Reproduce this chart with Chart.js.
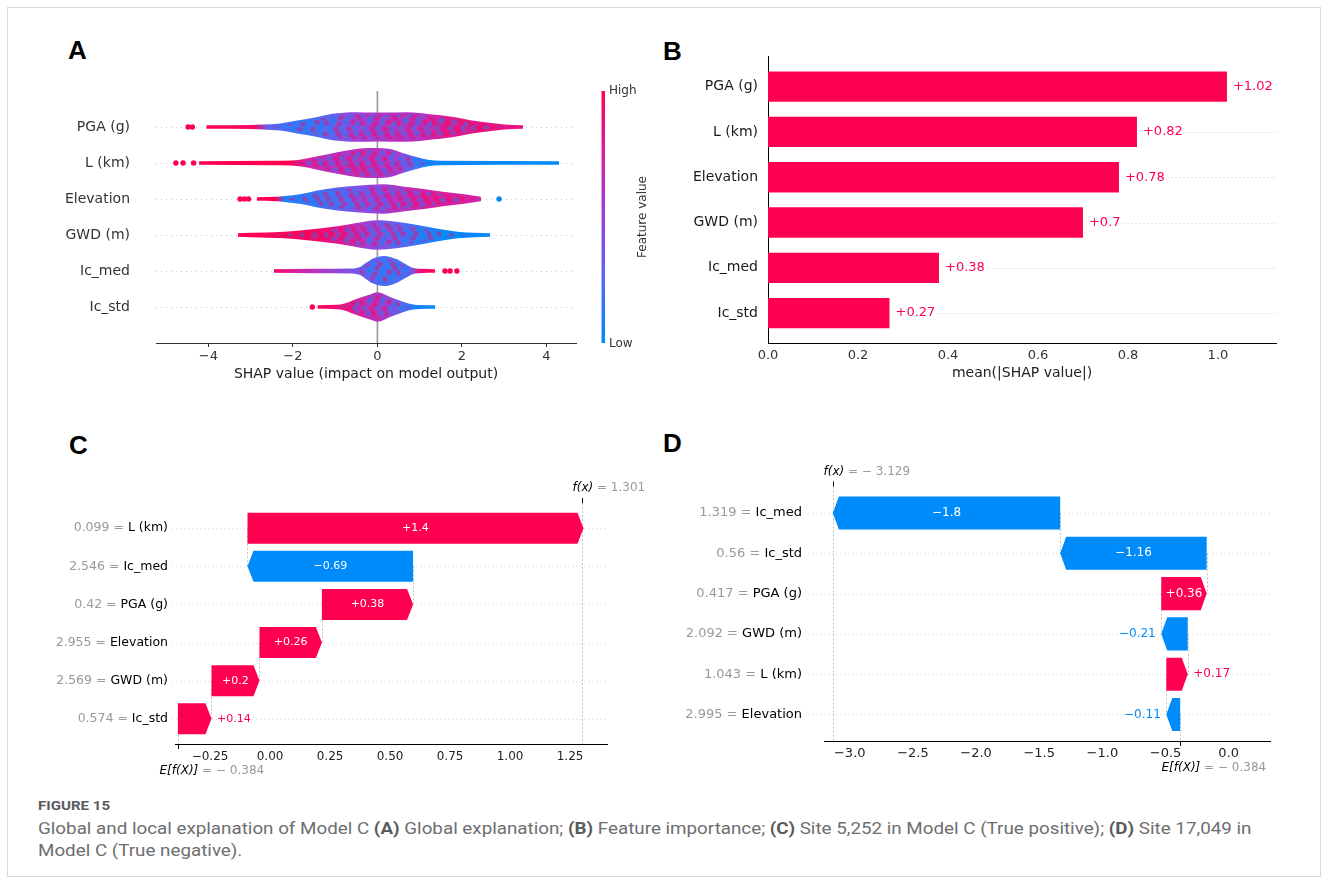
<!DOCTYPE html>
<html>
<head>
<meta charset="utf-8">
<title>Figure 15 – global and local explanation of Model C</title>
<script src="https://cdn.jsdelivr.net/npm/chart.js@4.4.1/dist/chart.umd.min.js"></script>
<style>
  html, body { margin: 0; padding: 0; background: #fff; }
  body { position: relative; width: 1328px; height: 883px; overflow: hidden; }
  .frame { position: absolute; left: 7px; top: 7px; width: 1314px; height: 870px; border: 1px solid #d9d9d9; box-sizing: border-box; }
  canvas { position: absolute; }
  .panel { position: absolute; font: bold 26px 'Liberation Sans', Arial, sans-serif; line-height: 26px; color: #000; }
  .cap { position: absolute; left: 38px; white-space: nowrap; transform-origin: 0 0; color: #6d6e70;
         font-family: 'Liberation Sans Narrow', 'Roboto', sans-serif; }
  .cap b { font-weight: bold; color: #5a5b5d; }
  #cap0 { top: 798px; font-size: 13px; font-weight: bold; color: #5a5b5d; line-height: 16px; }
  #cap1 { top: 818px; font-size: 16px; line-height: 22px; }
  #cap2 { top: 840px; font-size: 16px; line-height: 22px; }
</style>
</head>
<body>
<div class="frame"></div>
<div class="panel" style="left:68px;top:37px">A</div>
<div class="panel" style="left:663px;top:38px">B</div>
<div class="panel" style="left:69px;top:432px">C</div>
<div class="panel" style="left:663px;top:430px">D</div>

<canvas id="chartA" width="664" height="400" style="left:0;top:0"></canvas>
<canvas id="chartB" width="664" height="400" style="left:664px;top:0"></canvas>
<canvas id="chartC" width="664" height="370" style="left:0;top:420px"></canvas>
<canvas id="chartD" width="664" height="370" style="left:664px;top:420px"></canvas>

<div id="cap0" class="cap">FIGURE 15</div>
<div id="cap1" class="cap">Global and local explanation of Model C <b>(A)</b> Global explanation; <b>(B)</b> Feature importance; <b>(C)</b> Site 5,252 in Model C (True positive); <b>(D)</b> Site 17,049 in</div>
<div id="cap2" class="cap">Model C (True negative).</div>

<script>
// ---------------- Panel A: SHAP summary (beeswarm) ----------------
const featuresA = ['PGA (g)', 'L (km)', 'Elevation', 'GWD (m)', 'Ic_med', 'Ic_std'];
const ticksA = [-4, -2, 0, 2, 4];

// swarm outline per feature: [SHAP value, half thickness in row units]
const swarmPGA = [[-4.05, 0.05], [-3.0, 0.055], [-2.7, 0.07], [-2.3, 0.1], [-1.9, 0.18], [-1.45, 0.27], [-1.1, 0.36], [-0.5, 0.41], [0, 0.40], [0.7, 0.41], [1.3, 0.35], [1.8, 0.28], [2.2, 0.19], [2.7, 0.11], [3.0, 0.07], [3.45, 0.05]];
const swarmL = [[-4.22, 0.05], [-2.5, 0.06], [-2.05, 0.07], [-1.8, 0.1], [-1.45, 0.18], [-0.95, 0.3], [-0.5, 0.39], [-0.2, 0.42], [0, 0.42], [0.3, 0.39], [0.6, 0.28], [0.95, 0.16], [1.2, 0.09], [1.5, 0.06], [4.3, 0.05]];
const swarmElev = [[-2.85, 0.05], [-2.4, 0.06], [-2.2, 0.08], [-1.8, 0.14], [-1.45, 0.23], [-0.95, 0.32], [-0.5, 0.37], [0.15, 0.41], [0.6, 0.35], [1.1, 0.28], [1.55, 0.2], [2.05, 0.13], [2.45, 0.06]];
const swarmGWD = [[-3.3, 0.05], [-3.0, 0.06], [-2.2, 0.09], [-1.6, 0.15], [-0.95, 0.24], [-0.5, 0.33], [0, 0.41], [0.45, 0.37], [0.95, 0.28], [1.4, 0.18], [1.9, 0.09], [2.3, 0.06], [2.67, 0.05]];
const swarmIcMed = [[-2.45, 0.05], [-1.5, 0.06], [-0.6, 0.07], [-0.4, 0.12], [-0.25, 0.24], [-0.1, 0.35], [0.15, 0.42], [0.45, 0.33], [0.65, 0.2], [0.85, 0.08], [1.0, 0.06], [1.37, 0.05]];
const swarmIcStd = [[-1.42, 0.05], [-0.95, 0.06], [-0.8, 0.09], [-0.48, 0.23], [-0.17, 0.35], [0, 0.41], [0.3, 0.28], [0.62, 0.14], [0.85, 0.07], [1.0, 0.055], [1.37, 0.05]];

// prevailing feature value along the swarm: [SHAP value, 0 = low … 1 = high]
const huePGA = [[-4.5, 1], [-2.9, 0.95], [-2.6, 0.3], [-1.8, 0.15], [-1.2, 0.25], [-0.5, 0.5], [0.3, 0.62], [1.0, 0.62], [1.6, 0.8], [2.5, 0.86], [3.5, 0.86]];
const hueL = [[-4.8, 1], [-2.1, 1], [-1.7, 0.75], [-1.2, 0.62], [-0.5, 0.66], [0, 0.62], [0.5, 0.52], [0.9, 0.2], [1.2, 0.03], [4.3, 0]];
const hueElev = [[-3.3, 1], [-2.4, 1], [-2.2, 0.1], [-1.5, 0.15], [-0.8, 0.3], [-0.2, 0.48], [0.4, 0.58], [1.0, 0.72], [1.6, 0.78], [2.5, 0.72]];
const hueGWD = [[-3.3, 1], [-1.5, 0.95], [-0.8, 0.78], [-0.2, 0.5], [0.4, 0.32], [1.0, 0.15], [1.6, 0.03], [2.7, 0]];
const hueIcMed = [[-2.45, 0.95], [-1.9, 0.75], [-1.2, 0.55], [-0.5, 0.35], [0, 0.22], [0.4, 0.22], [0.8, 0.3], [1.0, 0.9], [1.4, 1]];
const hueIcStd = [[-1.55, 1], [-0.9, 0.9], [-0.4, 0.72], [0, 0.62], [0.4, 0.42], [0.8, 0.1], [1.4, 0]];

// isolated samples: [SHAP value, feature value]
const dotsPGA = [[-4.48, 1], [-4.38, 1]];
const dotsL = [[-4.77, 1], [-4.6, 1], [-4.35, 1]];
const dotsElev = [[-3.25, 1], [-3.15, 1], [-3.05, 1], [2.88, 0]];
const dotsGWD = [];
const dotsIcMed = [[1.6, 1], [1.72, 1], [1.88, 1]];
const dotsIcStd = [[-1.54, 1]];

const swarmA = [swarmPGA, swarmL, swarmElev, swarmGWD, swarmIcMed, swarmIcStd];
const hueA = [huePGA, hueL, hueElev, hueGWD, hueIcMed, hueIcStd];
const dotsA = [dotsPGA, dotsL, dotsElev, dotsGWD, dotsIcMed, dotsIcStd];

// ---------------- Panel B: mean |SHAP| ----------------
const featuresB = ['PGA (g)', 'L (km)', 'Elevation', 'GWD (m)', 'Ic_med', 'Ic_std'];
const importanceB = [1.02, 0.82, 0.78, 0.7, 0.38, 0.27];
const ticksB = [0, 0.2, 0.4, 0.6, 0.8, 1.0];

// ---------------- Panel C: site 5,252 waterfall ----------------
const namesC = ['L (km)', 'Ic_med', 'PGA (g)', 'Elevation', 'GWD (m)', 'Ic_std'];
const featC = ['0.099', '2.546', '0.42', '2.955', '2.569', '0.574'];
const shapC = [1.4, -0.69, 0.38, 0.26, 0.2, 0.14];
const baseC = -0.384;
const fxC = 1.301;
const ticksC = [-0.25, 0, 0.25, 0.5, 0.75, 1.0, 1.25];

// ---------------- Panel D: site 17,049 waterfall ----------------
const namesD = ['Ic_med', 'Ic_std', 'PGA (g)', 'GWD (m)', 'L (km)', 'Elevation'];
const featD = ['1.319', '0.56', '0.417', '2.092', '1.043', '2.995'];
const shapD = [-1.8, -1.16, 0.36, -0.21, 0.17, -0.11];
const baseD = -0.384;
const fxD = -3.129;
const ticksD = [-3, -2.5, -2, -1.5, -1, -0.5, 0];

const rowsIdx = [0, 1, 2, 3, 4, 5];

// ---------------- shared styling ----------------
const RED = '#ff0051';
const BLUE = '#008bfb';
const CMAP = [[0, [0, 139, 251]], [0.25, [88, 104, 243]], [0.5, [155, 66, 218]], [0.75, [212, 34, 165]], [1, [255, 0, 81]]];
const FONT = "'DejaVu Sans', sans-serif";

Chart.defaults.font.family = FONT;
Chart.defaults.color = '#333';
Chart.defaults.animation = false;
Chart.defaults.plugins.legend.display = false;
Chart.defaults.plugins.tooltip.enabled = false;

function cmap(t) {
  t = Math.max(0, Math.min(1, t));
  for (let i = 1; i < CMAP.length; i++) {
    const [t1, c1] = CMAP[i];
    if (t <= t1) {
      const [t0, c0] = CMAP[i - 1];
      const f = (t - t0) / (t1 - t0);
      return 'rgb(' + c0.map((c, k) => Math.round(c + (c1[k] - c) * f)).join(',') + ')';
    }
  }
  return 'rgb(255,0,81)';
}
const uminus = (s) => String(s).replace('-', '\u2212');
const signed = (v) => (v < 0 ? '\u2212' : '+') + String(Math.abs(v));

function seg(ctx, x0, y0, x1, y1) {
  ctx.beginPath(); ctx.moveTo(x0, y0); ctx.lineTo(x1, y1); ctx.stroke();
}

function swarmGradient(chart, hue) {
  const xs = chart.scales.x;
  if (!chart.chartArea || !xs) return cmap(0.5);
  const x0 = xs.getPixelForValue(xs.min), x1 = xs.getPixelForValue(xs.max);
  const g = chart.ctx.createLinearGradient(x0, 0, x1, 0);
  hue.forEach(([v, m]) => {
    const p = (xs.getPixelForValue(v) - x0) / (x1 - x0);
    g.addColorStop(Math.max(0, Math.min(1, p)), cmap(m));
  });
  return g;
}

// speckle texture laid over the thick part of each swarm so it reads as packed dots
const speckle = (() => {
  const W = 36, H = 30;
  const tile = document.createElement('canvas');
  tile.width = W; tile.height = H;
  const t = tile.getContext('2d');
  const spots = [
    [2, 3, RED], [9, 2, BLUE], [15, 4, RED], [22, 3, BLUE], [29, 2, RED], [34, 4, BLUE],
    [5, 8, BLUE], [12, 9, RED], [18, 8, BLUE], [25, 9, RED], [31, 8, BLUE],
    [1, 14, RED], [8, 13, BLUE], [14, 14, RED], [21, 13, BLUE], [27, 15, RED], [33, 13, BLUE],
    [4, 19, RED], [11, 20, BLUE], [17, 19, RED], [24, 20, BLUE], [30, 19, RED],
    [2, 25, BLUE], [7, 24, RED], [14, 25, BLUE], [20, 24, RED], [27, 25, BLUE], [33, 24, RED],
    [10, 29, BLUE], [17, 28, RED], [23, 29, BLUE], [35, 28, RED]
  ];
  t.globalAlpha = 0.4;
  spots.forEach(([x, y, c]) => {
    for (const dx of [-W, 0, W]) for (const dy of [-H, 0, H]) {
      t.fillStyle = c; t.beginPath(); t.arc(x + dx, y + dy, 2.6, 0, Math.PI * 2); t.fill();
    }
  });
  return tile;
})();
let speckleFill = null;
const RIM = 0.07; // solid rim (row units) left around the speckled body

// ---------------- Panel A chart ----------------
const datasetsA = [];
const lineStyle = { borderColor: 'rgba(0,0,0,0)', borderWidth: 0, pointRadius: 0, cubicInterpolationMode: 'monotone' };
swarmA.forEach((outline, row) => {
  const hue = hueA[row];
  datasetsA.push({ data: outline.map(([x, h]) => ({ x, y: row - h })), fill: '+1',
                   backgroundColor: (ctx) => swarmGradient(ctx.chart, hue), ...lineStyle });
  datasetsA.push({ data: outline.map(([x, h]) => ({ x, y: row + h })), fill: false, ...lineStyle });
  datasetsA.push({
    data: outline.map(([x, h]) => ({ x, y: row - Math.max(h - RIM, 0) })), fill: '+1', order: -0.5,
    backgroundColor: (ctx) => {
      if (!speckleFill) speckleFill = ctx.chart.ctx.createPattern(speckle, 'repeat');
      return speckleFill;
    },
    ...lineStyle
  });
  datasetsA.push({ data: outline.map(([x, h]) => ({ x, y: row + Math.max(h - RIM, 0) })), fill: false, order: -0.5, ...lineStyle });
});
datasetsA.push({
  data: dotsA.flatMap((list, row) => list.map(([x, m]) => ({ x, y: row, m }))),
  showLine: false, order: -1,
  pointRadius: 2.7, pointBorderWidth: 0,
  pointBackgroundColor: (ctx) => cmap(ctx.raw ? ctx.raw.m : 0.5)
});

const swarmDecor = {
  id: 'swarmDecor',
  beforeDatasetsDraw(chart) {
    const { ctx, chartArea: a, scales: { x, y } } = chart;
    ctx.save();
    ctx.strokeStyle = '#cccccc'; ctx.lineWidth = 1; ctx.setLineDash([1, 4]);
    featuresA.forEach((_, i) => {
      const py = Math.round(y.getPixelForValue(i)) + 0.5;
      seg(ctx, a.left, py, a.right, py);
    });
    ctx.setLineDash([]);
    ctx.strokeStyle = '#999999'; ctx.lineWidth = 1.6;
    const px = x.getPixelForValue(0);
    seg(ctx, px, a.top, px, a.bottom);
    ctx.restore();
  },
  afterDraw(chart) {
    // colour bar for the feature value
    const { ctx, chartArea: a } = chart;
    ctx.save();
    const g = ctx.createLinearGradient(0, a.bottom, 0, a.top);
    CMAP.forEach(([t, c]) => g.addColorStop(t, 'rgb(' + c.join(',') + ')'));
    ctx.fillStyle = g;
    ctx.fillRect(601.5, a.top, 3.5, a.bottom - a.top);
    ctx.fillStyle = '#333';
    ctx.font = '12px ' + FONT;
    ctx.textBaseline = 'middle';
    ctx.textAlign = 'left';
    ctx.fillText('High', 609, a.top);
    ctx.fillText('Low', 609, a.bottom + 1);
    ctx.translate(643, (a.top + a.bottom) / 2);
    ctx.rotate(-Math.PI / 2);
    ctx.textAlign = 'center';
    ctx.fillText('Feature value', 0, 0);
    ctx.restore();
  }
};

new Chart(document.getElementById('chartA'), {
  type: 'line',
  data: { datasets: datasetsA },
  options: {
    responsive: false, events: [],
    layout: { padding: { left: 0, top: 91, right: 88, bottom: 17.6 } },
    scales: {
      x: {
        type: 'linear', min: -5.24, max: 4.7, bounds: 'data',
        afterBuildTicks: (s) => { s.ticks = ticksA.map((v) => ({ value: v })); },
        afterFit: (s) => { s.height = 39.4; },
        ticks: { callback: (v) => uminus(v), font: { size: 13 }, color: '#333', padding: 2, maxRotation: 0, autoSkip: false },
        grid: { display: true, drawOnChartArea: false, drawTicks: true, tickLength: 4, color: '#333' },
        border: { display: true, color: '#333', width: 1 },
        title: { display: true, text: 'SHAP value (impact on model output)', font: { size: 14 }, color: '#222', padding: 0 }
      },
      y: {
        type: 'linear', reverse: true, min: -1, max: 6, bounds: 'data',
        afterBuildTicks: (s) => { s.ticks = featuresA.map((_, i) => ({ value: i })); },
        afterFit: (s) => { s.width = 156; },
        ticks: { callback: (v) => featuresA[v], font: { size: 14 }, color: '#333', padding: 26, autoSkip: false },
        grid: { display: false, drawTicks: false },
        border: { display: false }
      }
    }
  },
  plugins: [swarmDecor]
});

// ---------------- Panel B chart ----------------
const barLabels = {
  id: 'barLabels',
  afterDatasetsDraw(chart) {
    const { ctx, chartArea: a } = chart;
    const meta = chart.getDatasetMeta(0);
    ctx.save();
    ctx.font = '13px ' + FONT;
    ctx.textBaseline = 'middle';
    meta.data.forEach((el, i) => {
      const txt = signed(importanceB[i]);
      const tx = el.x + 6;
      ctx.fillStyle = RED;
      ctx.textAlign = 'left';
      ctx.fillText(txt, tx, el.y);
      const tw = ctx.measureText(txt).width;
      ctx.strokeStyle = '#cccccc'; ctx.lineWidth = 1; ctx.setLineDash([1, 3]);
      const py = Math.round(el.y) + 0.5;
      if (tx + tw + 3 < a.right) seg(ctx, tx + tw + 3, py, a.right, py);
    });
    ctx.restore();
  }
};

new Chart(document.getElementById('chartB'), {
  type: 'bar',
  data: {
    datasets: [{
      data: importanceB.map((v, i) => ({ x: v, y: i })),
      backgroundColor: RED, borderWidth: 0,
      barPercentage: 0.67, categoryPercentage: 1
    }]
  },
  options: {
    indexAxis: 'y', responsive: false, events: [],
    layout: { padding: { left: 0, top: 56.7, right: 52, bottom: 17.9 } },
    scales: {
      x: {
        type: 'linear', min: 0, max: 1.129, bounds: 'data',
        afterBuildTicks: (s) => { s.ticks = ticksB.map((v) => ({ value: v })); },
        afterFit: (s) => { s.height = 39.1; },
        ticks: { callback: (v) => v.toFixed(1), font: { size: 13 }, color: '#333', padding: 5, maxRotation: 0, autoSkip: false },
        grid: { display: false, drawTicks: false },
        border: { display: true, color: '#000', width: 1 },
        title: { display: true, text: 'mean(|SHAP value|)', font: { size: 14 }, color: '#222', padding: 0 }
      },
      y: {
        type: 'linear', reverse: true, min: -0.66, max: 5.66, offset: false, bounds: 'data',
        afterBuildTicks: (s) => { s.ticks = featuresB.map((_, i) => ({ value: i })); },
        afterFit: (s) => { s.width = 104; },
        ticks: { callback: (v) => featuresB[v], font: { size: 14 }, color: '#1a1a1a', padding: 10, autoSkip: false },
        grid: { display: false, drawTicks: false },
        border: { display: true, color: '#000', width: 1 }
      }
    }
  },
  plugins: [barLabels]
});

// ---------------- Panels C and D: waterfall ----------------
function waterfall(id, s) {
  const n = s.shap.length;
  const starts = [], ends = [];
  let acc = s.base;
  for (let i = n - 1; i >= 0; i--) { starts[i] = acc; acc += s.shap[i]; ends[i] = acc; }

  const head = 6;
  const plugin = {
    id: 'waterfall',
    beforeDatasetsDraw(chart) {
      const { ctx, chartArea: a, scales: { x, y } } = chart;
      ctx.save();
      ctx.lineWidth = 1;
      ctx.strokeStyle = '#d8d8d8'; ctx.setLineDash([1, 3]);
      for (let i = 0; i < n; i++) {
        const py = Math.round(y.getPixelForValue(i)) + 0.5;
        seg(ctx, s.gridFrom, py, a.right, py);
      }
      ctx.strokeStyle = '#c2c2c2'; ctx.setLineDash([2, 2]);
      for (let i = 0; i < n - 1; i++) {
        const px = Math.round(x.getPixelForValue(starts[i])) + 0.5;
        seg(ctx, px, y.getPixelForValue(i), px, y.getPixelForValue(i + 1));
      }
      let px = Math.round(x.getPixelForValue(s.base)) + 0.5;
      seg(ctx, px, y.getPixelForValue(n - 1), px, a.bottom);
      px = Math.round(x.getPixelForValue(s.fx)) + 0.5;
      seg(ctx, px, a.top, px, a.bottom);
      ctx.restore();
    },
    afterDatasetsDraw(chart) {
      const { ctx, scales: { y } } = chart;
      const meta = chart.getDatasetMeta(0);
      ctx.save();
      meta.data.forEach((el, i) => {
        const v = s.shap[i];
        const p = el.getProps(['x', 'base', 'y', 'height'], true);
        const L = Math.min(p.x, p.base), R = Math.max(p.x, p.base);
        const t = p.y - p.height / 2, b = p.y + p.height / 2;
        const h = Math.min(head, R - L);
        ctx.fillStyle = v > 0 ? RED : BLUE;
        ctx.beginPath();
        if (v > 0) {
          ctx.moveTo(L, t); ctx.lineTo(R - h, t); ctx.lineTo(R, p.y); ctx.lineTo(R - h, b); ctx.lineTo(L, b);
        } else {
          ctx.moveTo(R, t); ctx.lineTo(L + h, t); ctx.lineTo(L, p.y); ctx.lineTo(L + h, b); ctx.lineTo(R, b);
        }
        ctx.closePath();
        ctx.fill();

        // value text, inside the arrow when it fits
        const txt = signed(v);
        ctx.font = s.valueSize + 'px ' + FONT;
        ctx.textBaseline = 'middle';
        const tw = ctx.measureText(txt).width;
        if (tw + 6 < R - L) {
          ctx.fillStyle = '#fff'; ctx.textAlign = 'center';
          ctx.fillText(txt, (L + R) / 2, p.y);
        } else if (v > 0) {
          ctx.fillStyle = RED; ctx.textAlign = 'left';
          ctx.fillText(txt, R + 5.5, p.y);
        } else {
          ctx.fillStyle = BLUE; ctx.textAlign = 'right';
          ctx.fillText(txt, L - 5.5, p.y);
        }
      });

      // feature rows: "value = name"
      ctx.font = s.labelSize + 'px ' + FONT;
      ctx.textBaseline = 'middle';
      ctx.textAlign = 'right';
      s.names.forEach((name, i) => {
        const py = y.getPixelForValue(i);
        ctx.fillStyle = '#000';
        ctx.fillText(name, s.labelRight, py);
        const nw = ctx.measureText(name).width;
        ctx.fillStyle = '#999';
        ctx.fillText(s.feat[i] + ' = ', s.labelRight - nw, py);
      });
      ctx.restore();
    },
    afterDraw(chart) {
      const { ctx, chartArea: a, scales: { x } } = chart;
      ctx.save();
      ctx.strokeStyle = '#000'; ctx.lineWidth = 1;
      const fxPx = Math.round(x.getPixelForValue(s.fx)) + 0.5;
      const ePx = Math.round(x.getPixelForValue(s.base)) + 0.5;
      seg(ctx, fxPx, a.top - 5, fxPx, a.top);
      seg(ctx, ePx, a.bottom, ePx, a.bottom + 5);
      const num = (v) => (v < 0 ? '\u2212 ' + Math.abs(v).toFixed(3) : v.toFixed(3));
      const pair = (x0, yc, a1, a2) => {
        ctx.textAlign = 'left'; ctx.textBaseline = 'middle';
        ctx.font = 'italic 12px ' + FONT; ctx.fillStyle = '#000';
        ctx.fillText(a1, x0, yc);
        const w = ctx.measureText(a1).width;
        ctx.font = '12px ' + FONT; ctx.fillStyle = '#999';
        ctx.fillText(a2, x0 + w, yc);
      };
      pair(fxPx - 10, a.top - 15, 'f(x)', ' = ' + num(s.fx));
      pair(ePx - 19, a.bottom + 27, 'E[f(X)]', ' = ' + num(s.base));
      ctx.restore();
    }
  };

  return new Chart(document.getElementById(id), {
    type: 'bar',
    data: {
      datasets: [{
        data: s.shap.map((v, i) => ({ x: [starts[i], ends[i]], y: i })),
        backgroundColor: 'rgba(0,0,0,0)', borderWidth: 0,
        barPercentage: s.barPct, categoryPercentage: 1
      }]
    },
    options: {
      indexAxis: 'y', responsive: false, events: [],
      layout: { padding: s.pad },
      scales: {
        x: {
          type: 'linear', min: s.xmin, max: s.xmax, bounds: 'data',
          afterBuildTicks: (sc) => { sc.ticks = s.ticks.map((v) => ({ value: v })); },
          afterFit: (sc) => { sc.height = 30; },
          ticks: { callback: s.fmt, font: { size: s.tickSize }, color: '#222', padding: s.tickPad, maxRotation: 0, autoSkip: false },
          grid: { display: false, drawTicks: false },
          border: { display: true, color: '#000', width: 1 }
        },
        y: {
          type: 'linear', reverse: true, min: -0.66, max: 5.66, offset: false, bounds: 'data',
          afterBuildTicks: (sc) => { sc.ticks = rowsIdx.map((v) => ({ value: v })); },
          display: false, grid: { display: false, drawTicks: false }
        }
      }
    },
    plugins: [plugin]
  });
}

// canvas C spans page y 420..790, canvas D page x 664..1328
waterfall('chartC', {
  names: namesC, feat: featC, shap: shapC, base: baseC, fx: fxC, ticks: ticksC,
  fmt: (v) => uminus(v.toFixed(2)),
  xmin: -0.396, xmax: 1.404,
  pad: { left: 175, right: 57, top: 83, bottom: 16 },
  barPct: 0.815, labelRight: 168, gridFrom: 172,
  labelSize: 12.5, valueSize: 11, tickSize: 12, tickPad: 6
});
waterfall('chartD', {
  names: namesD, feat: featD, shap: shapD, base: baseD, fx: fxD, ticks: ticksD,
  fmt: (v) => uminus(v.toFixed(1)),
  xmin: -3.2, xmax: 0.327,
  pad: { left: 160.5, right: 58, top: 66.5, bottom: 19 },
  barPct: 0.82, labelRight: 138, gridFrom: 144,
  labelSize: 13, valueSize: 12, tickSize: 13, tickPad: 5
});

// ---------------- caption ----------------
function fitCaption() {
  const c0 = document.getElementById('cap0');
  const c1 = document.getElementById('cap1');
  const c2 = document.getElementById('cap2');
  c0.style.transform = 'scaleX(' + (72 / c0.offsetWidth) + ')';
  const k = 1214 / c1.offsetWidth;
  c1.style.transform = 'scaleX(' + k + ')';
  c2.style.transform = 'scaleX(' + k + ')';
}
fitCaption();
</script>
</body>
</html>
